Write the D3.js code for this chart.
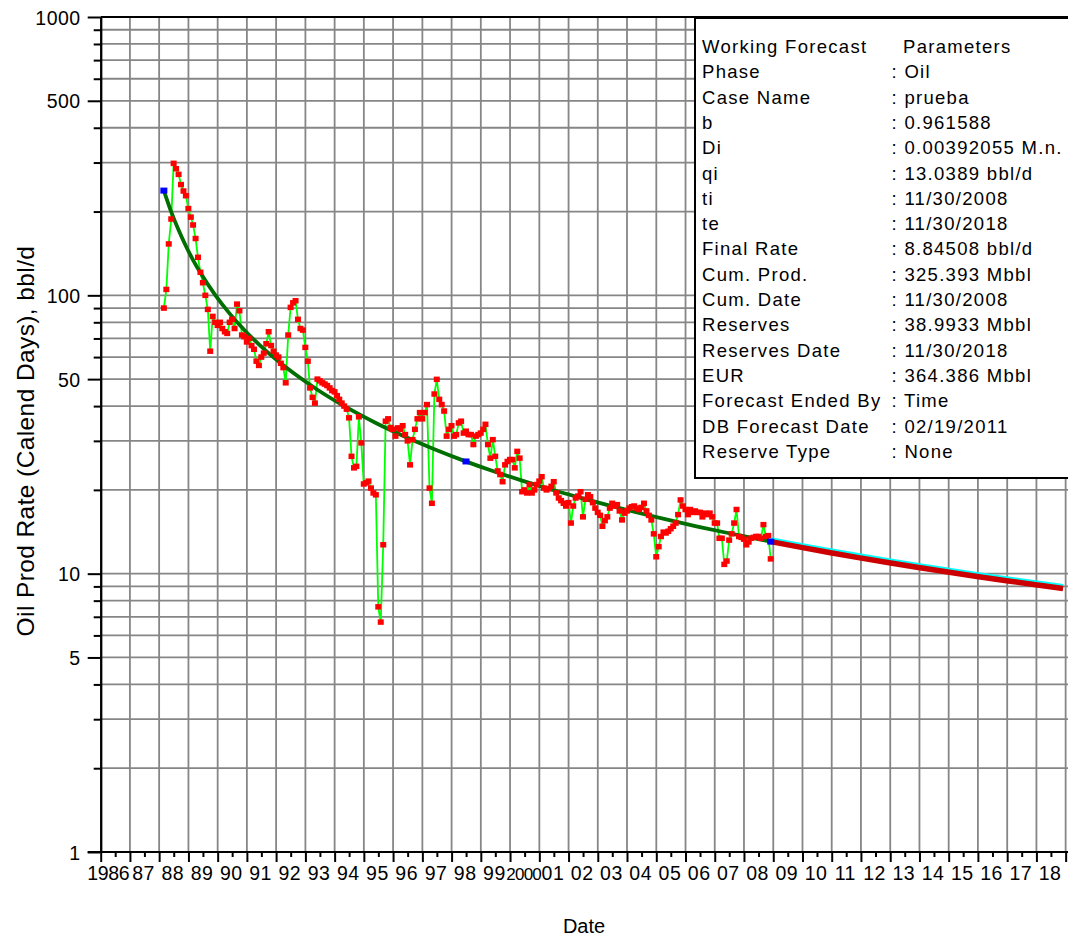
<!DOCTYPE html>
<html>
<head>
<meta charset="utf-8">
<script src="https://cdn.jsdelivr.net/npm/d3@7"></script>
<style>
  html, body { margin: 0; padding: 0; background: #fff; }
  svg { display: block; font-family: "Liberation Sans", Arial, sans-serif; }
</style>
</head>
<body>
<svg id="chart" width="1068" height="938"></svg>
<script>
// ---- Production history: month-end oil rate (bbl/d), Feb 1988 .. Nov 2008 ----
const historyStartYear = 1988;
const historyStartMonth = 2; // February
const oilRate = [
  /* 1988 */ 90, 105, 153, 188, 298, 285, 272, 250, 237, 228, 205,
  /* 1989 */ 191, 179, 160, 137, 121, 111, 100, 89, 63, 84, 80, 78,
  /* 1990 */ 80, 76, 74, 73, 80, 82, 76, 93, 88, 72, 71, 68,
  /* 1991 */ 70, 66, 64, 58, 56, 60, 62, 67, 74, 66, 63, 61,
  /* 1992 */ 60, 57, 55, 48.5, 72, 90.5, 94, 95.6, 82, 76, 75, 65,
  /* 1993 */ 58, 46.5, 43, 41, 50, 49.3, 48.5, 48, 47.4, 46.5, 45.5, 45,
  /* 1994 */ 43.6, 42.3, 41, 40, 39, 36.3, 26.4, 24, 24.3, 36.6, 29.5, 21,
  /* 1995 */ 21.2, 21.5, 20.3, 19.5, 19.2, 7.6, 6.7, 12.7, 35.3, 36, 33.5, 33,
  /* 1996 */ 31.2, 33.4, 33, 34, 31.6, 30, 24.6, 30.3, 33, 36, 37.9, 36,
  /* 1997 */ 37.9, 40.5, 20.3, 17.9, 44.2, 49.9, 42.3, 40.5, 38.4, 31.2, 33, 34,
  /* 1998 */ 31.2, 31.6, 34.8, 35.3, 32, 32.5, 31.6, 31.6, 29.1, 31.2, 31.6, 32,
  /* 1999 */ 33, 34.4, 29.1, 26, 30.3, 26.4, 23.4, 22.7, 21.4, 24.6, 25.3, 25.7,
  /* 2000 */ 25.7, 24, 27.5, 26, 19.7, 20, 19.5, 20.9, 19.5, 20, 20.9, 21.5,
  /* 2001 */ 22.3, 20.3, 20, 20.2, 20.6, 21.4, 19.5, 18.7, 18.3, 17.9, 17.5, 18,
  /* 2002 */ 15.2, 17.5, 18.7, 19, 19.7, 16, 18.5, 19.2, 18.9, 18, 17.2, 16.6,
  /* 2003 */ 16.2, 14.8, 15.5, 16, 17.2, 17.9, 17.5, 17.7, 16.8, 15.6, 16.5, 16.8,
  /* 2004 */ 17.2, 17.4, 17.5, 17.2, 17, 17.3, 17.9, 16.8, 16.2, 15.6, 13.9, 11.5,
  /* 2005 */ 12.5, 13.6, 14.1, 14, 14.2, 14.5, 14.8, 15.2, 16.3, 18.4, 17.5, 17,
  /* 2006 */ 16.3, 17, 16.6, 16.8, 16.6, 16.6, 16, 16.5, 16.3, 16.5, 16, 15.2,
  /* 2007 */ 15.2, 13.4, 13.4, 10.8, 11.1, 13.2, 13.9, 15.2, 17, 13.6, 13.5, 13.3,
  /* 2008 */ 12.7, 13, 13.4, 13.5, 13.6, 13.6, 13.4, 15, 13.6, 13.7, 11.3
];

// ---- Hyperbolic decline matched to the history ----
const fitDates = [
  "1988-02-29", "1988-05-31", "1988-08-31", "1988-11-30", "1989-02-28", "1989-05-31",
  "1989-11-30", "1990-05-31", "1990-11-30", "1991-05-31", "1992-05-31", "1993-05-31",
  "1994-05-31", "1995-05-31", "1996-05-31", "1997-05-31", "1998-05-31", "1999-05-31",
  "2000-05-31", "2001-05-31", "2002-05-31", "2003-05-31", "2004-05-31", "2005-05-31",
  "2006-05-31", "2007-05-31", "2008-05-31", "2008-11-30"
];
const fitRates = [
  237.88, 199.5, 171.6, 150.4, 133.9, 120.5,
  100.4, 85.97, 75.10, 66.64, 54.32, 45.80,
  39.55, 34.78, 31.02, 27.99, 25.48, 23.38,
  21.60, 20.06, 18.73, 17.56, 16.52, 15.60,
  14.77, 14.03, 13.353, 13.0389
];

// Anchor points of the decline curve
const anchorDates = ["1988-02-29", "1998-06-30", "2008-11-30"];
const anchorRates = [237.88, 25.30, 13.0389];

// ---- Working forecast, 11/30/2008 .. 11/30/2018 ----
const forecastDates = [
  "2008-11-30", "2009-11-30", "2010-11-30", "2011-11-30", "2012-11-30", "2013-11-30",
  "2014-11-30", "2015-11-30", "2016-11-30", "2017-11-30", "2018-11-30"
];
const forecastRates = [13.0389, 12.4527, 11.9157, 11.4225, 10.9678, 10.5474, 10.1572, 9.7947, 9.4565, 9.1406, 8.84508];

// ---- Axis ticks ----
const yMajorTicks = [1, 5, 10, 50, 100, 500, 1000];
const yMinorTicks = [2, 3, 4, 6, 7, 8, 9, 20, 30, 40, 60, 70, 80, 90, 200, 300, 400, 600, 700, 800, 900];
const yearTicks = d3.range(1986, 2020);
const yearLabels = d3.range(1986, 2019).map(yr => (yr === 1986 || yr === 2000) ? String(yr) : String(yr % 100).padStart(2, "0"));

// ---- Parameter box ----
const paramNames = [
  "Working Forecast", "Phase", "Case Name", "b", "Di", "qi", "ti", "te", "Final Rate",
  "Cum. Prod.", "Cum. Date", "Reserves", "Reserves Date", "EUR", "Forecast Ended By",
  "DB Forecast Date", "Reserve Type"
];
const paramValues = [
  "Parameters", ": Oil", ": prueba", ": 0.961588", ": 0.00392055 M.n.", ": 13.0389 bbl/d",
  ": 11/30/2008", ": 11/30/2018", ": 8.84508 bbl/d", ": 325.393 Mbbl", ": 11/30/2008",
  ": 38.9933 Mbbl", ": 11/30/2018", ": 364.386 Mbbl", ": Time", ": 02/19/2011", ": None"
];

// ================= drawing =================
const W = 1068, H = 938;
const plotLeft = 100.7, plotTop = 17, plotBottom = 852, yearPx = 29.24;
const svg = d3.select("#chart");
const parse = d3.utcParse("%Y-%m-%d");
const yearDate = (yr, m = 0, d = 1) => new Date(Date.UTC(yr, m, d));

const x = d3.scaleUtc()
  .domain([yearDate(1986), yearDate(2020)])
  .range([plotLeft, plotLeft + 34 * yearPx]);
const y = d3.scaleLog().domain([1, 1000]).range([plotBottom, plotTop]);

svg.append("rect").attr("width", W).attr("height", H).attr("fill", "#fff");

// grid
const grid = svg.append("g").attr("stroke", "#868686").attr("stroke-width", 1.8);
grid.selectAll("line.h")
  .data(yMajorTicks.concat(yMinorTicks).filter(v => v > 1 && v < 1000))
  .join("line")
  .attr("class", "h")
  .attr("x1", plotLeft).attr("x2", W + 10)
  .attr("y1", d => y(d)).attr("y2", d => y(d));
grid.selectAll("line.v")
  .data(yearTicks.filter(yr => yr > 1986).concat([2020]))
  .join("line")
  .attr("class", "v")
  .attr("x1", d => x(yearDate(d))).attr("x2", d => x(yearDate(d)))
  .attr("y1", plotTop).attr("y2", plotBottom);

// y axis
const yMinorAxis = d3.axisLeft(y).tickValues(yMinorTicks).tickSize(7).tickSizeOuter(0).tickFormat("");
const yMajorAxis = d3.axisLeft(y).tickValues(yMajorTicks).tickSize(13).tickSizeOuter(0).tickPadding(7)
  .tickFormat(d3.format("d"));
const gyMinor = svg.append("g").attr("transform", `translate(${plotLeft},0)`).call(yMinorAxis);
const gyMajor = svg.append("g").attr("transform", `translate(${plotLeft},0)`).call(yMajorAxis);
[gyMinor, gyMajor].forEach(g => {
  g.select(".domain").attr("stroke", "#000").attr("stroke-width", 2);
  g.selectAll(".tick line").attr("stroke", "#000").attr("stroke-width", 2);
});
gyMajor.selectAll(".tick text")
  .attr("fill", "#000")
  .style("font-size", "19.5px")
  .style("letter-spacing", "0.5px")
  .attr("dy", "0.36em");

// x axis
const xMajorAxis = d3.axisBottom(x).tickValues(yearTicks.map(yr => yearDate(yr))).tickSize(10).tickSizeOuter(0).tickFormat("");
const xMinorAxis = d3.axisBottom(x).tickValues(yearTicks.map(yr => yearDate(yr, 6, 1))).tickSize(5).tickSizeOuter(0).tickFormat("");
const gxMajor = svg.append("g").attr("transform", `translate(0,${plotBottom})`).call(xMajorAxis);
const gxMinor = svg.append("g").attr("transform", `translate(0,${plotBottom})`).call(xMinorAxis);
[gxMajor, gxMinor].forEach(g => {
  g.select(".domain").remove();
  g.selectAll(".tick line").attr("stroke", "#000").attr("stroke-width", 2);
});
svg.append("line")
  .attr("x1", plotLeft - 13).attr("x2", W + 10)
  .attr("y1", plotBottom).attr("y2", plotBottom)
  .attr("stroke", "#000").attr("stroke-width", 2);

// year labels sit in the middle of each year; the full "2000" is set a little tighter
svg.append("g")
  .selectAll("text")
  .data(yearLabels)
  .join("text")
  .attr("x", (d, i) => {
    const yr = 1986 + i;
    const mid = (x(yearDate(yr)) + x(yearDate(yr + 1))) / 2;
    return i === 0 ? mid - 7 : mid - 1;
  })
  .attr("y", 880)
  .attr("text-anchor", "middle")
  .style("font-size", d => d === "2000" ? "17px" : "19.5px")
  .style("letter-spacing", d => d === "2000" ? "-0.8px" : (d.length > 2 ? "-0.3px" : "0.5px"))
  .attr("fill", "#000")
  .text(d => d);

// top frame
svg.append("line")
  .attr("x1", plotLeft).attr("x2", W + 10)
  .attr("y1", plotTop).attr("y2", plotTop)
  .attr("stroke", "#000").attr("stroke-width", 2);

// axis titles
svg.append("text")
  .attr("transform", "translate(33.5,441) rotate(-90)")
  .attr("text-anchor", "middle")
  .style("font-size", "24.5px")
  .style("letter-spacing", "0.4px")
  .attr("fill", "#000")
  .text("Oil Prod Rate (Calend Days), bbl/d");
svg.append("text")
  .attr("x", 584).attr("y", 933)
  .attr("text-anchor", "middle")
  .style("font-size", "20px")
  .attr("fill", "#000")
  .text("Date");

// history series
const history = oilRate.map((rate, i) => ({
  date: new Date(Date.UTC(historyStartYear, historyStartMonth + i, 0)),
  rate
}));
const line = d3.line().x(d => x(d.date)).y(d => y(d.rate));

svg.append("path")
  .datum(history)
  .attr("d", line)
  .attr("fill", "none")
  .attr("stroke", "#00ff00")
  .attr("stroke-width", 1.8);

// decline fit
const fit = fitDates.map((d, i) => ({ date: parse(d), rate: fitRates[i] }));
const smooth = d3.line().x(d => x(d.date)).y(d => y(d.rate)).curve(d3.curveMonotoneX);
svg.append("path")
  .datum(fit)
  .attr("d", smooth)
  .attr("fill", "none")
  .attr("stroke", "#006e00")
  .attr("stroke-width", 3.8);

// monthly markers
svg.append("g")
  .selectAll("rect")
  .data(history)
  .join("rect")
  .attr("x", d => x(d.date) - 3)
  .attr("y", d => y(d.rate) - 2.75)
  .attr("width", 6).attr("height", 5.5)
  .attr("fill", "#ff0000");

// forecast
const forecast = forecastDates.map((d, i) => ({ date: parse(d), rate: forecastRates[i] }));
svg.append("path")
  .datum(forecast)
  .attr("d", smooth)
  .attr("transform", "translate(0,-2.5)")
  .attr("fill", "none")
  .attr("stroke", "#00ffff")
  .attr("stroke-width", 4);
svg.append("path")
  .datum(forecast)
  .attr("d", smooth)
  .attr("fill", "none")
  .attr("stroke", "#cc0000")
  .attr("stroke-width", 5.5);

// anchors
svg.append("g")
  .selectAll("rect")
  .data(anchorDates.map((d, i) => ({ date: parse(d), rate: anchorRates[i] })))
  .join("rect")
  .attr("x", d => x(d.date) - 3.5)
  .attr("y", d => y(d.rate) - 3)
  .attr("width", 7).attr("height", 6)
  .attr("fill", "#0000ff");

// parameter box
const box = svg.append("g");
box.append("rect")
  .attr("x", 695).attr("y", 18)
  .attr("width", 400).attr("height", 460)
  .attr("fill", "#fff")
  .attr("stroke", "#000").attr("stroke-width", 2);
const rowY = i => 53 + i * 25.3;
box.selectAll("text.name")
  .data(paramNames)
  .join("text")
  .attr("class", "name")
  .attr("x", 702).attr("y", (d, i) => rowY(i))
  .style("font-size", "18.5px").style("letter-spacing", "1.3px")
  .attr("fill", "#000")
  .text(d => d);
box.selectAll("text.val")
  .data(paramValues)
  .join("text")
  .attr("class", "val")
  .attr("x", (d, i) => i === 0 ? 903 : 891.5).attr("y", (d, i) => rowY(i))
  .style("font-size", "18.5px").style("letter-spacing", "1.3px")
  .attr("fill", "#000")
  .text(d => d);
</script>
</body>
</html>
